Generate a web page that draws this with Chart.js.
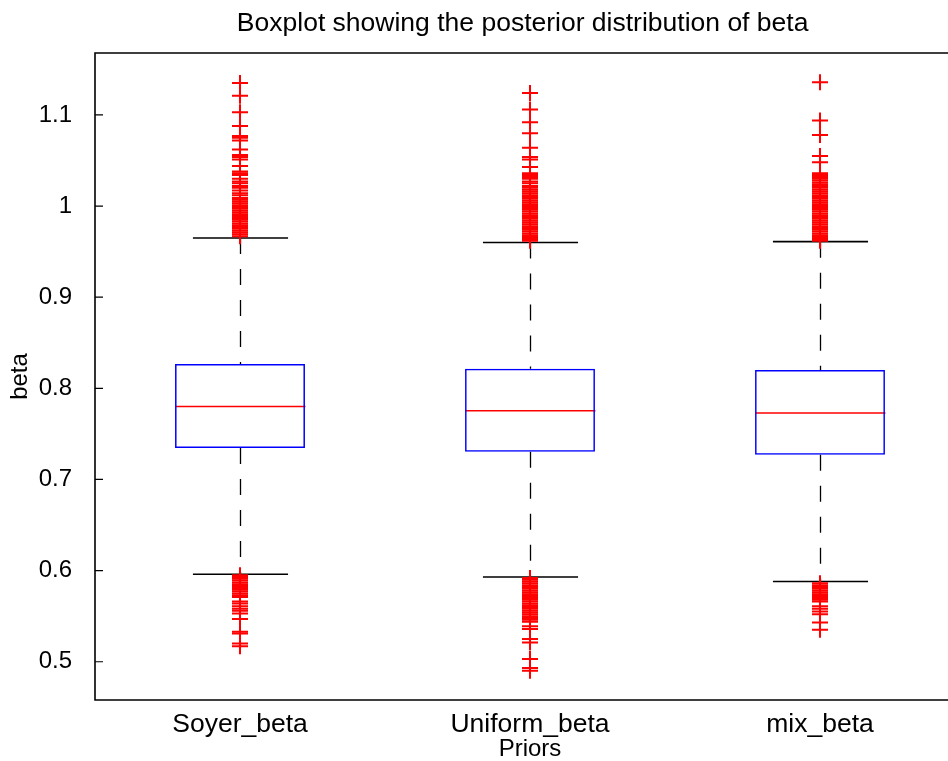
<!DOCTYPE html>
<html>
<head>
<meta charset="utf-8">
<script src="https://cdn.jsdelivr.net/npm/chart.js@4/dist/chart.umd.min.js"></script>
<style>
  html, body { margin: 0; padding: 0; background: #fff; overflow: hidden; }
</style>
</head>
<body>
<canvas id="myChart" width="990" height="761"></canvas>
<script>
// box statistics, one entry per prior
const categories = ['Soyer_beta', 'Uniform_beta', 'mix_beta']
const q1 = [0.7345, 0.7305, 0.727]
const medians = [0.780, 0.7755, 0.773]
const q3 = [0.8266, 0.8215, 0.820]
const whiskerLow = [0.596, 0.593, 0.588]
const whiskerHigh = [0.965, 0.960, 0.961]

// outliers
const outliersSoyer = [1.135, 1.121, 1.103, 1.088, 1.077, 1.075, 1.072, 1.062, 1.056, 1.054, 1.051, 1.044, 1.038, 1.036, 1.034, 1.030, 1.027,
    1.025, 1.022, 1.020, 1.017, 1.014, 1.012, 1.009, 1.007, 1.005, 1.003, 1.001, 0.999, 0.997, 0.995, 0.993, 0.991, 0.989, 0.987,
    0.985, 0.983, 0.981, 0.979, 0.977, 0.975, 0.973, 0.971, 0.969, 0.967,
    0.595, 0.593, 0.591, 0.589, 0.587, 0.585, 0.583, 0.581, 0.579, 0.577, 0.575, 0.573, 0.571, 0.566, 0.564, 0.561, 0.558,
    0.556, 0.553, 0.547, 0.533, 0.531, 0.520, 0.517]
const outliersUniform = [1.124, 1.106, 1.092, 1.080, 1.064, 1.054, 1.051, 1.043, 1.036, 1.034, 1.032, 1.030, 1.027, 1.025, 1.022,
    1.020, 1.018, 1.016, 1.014, 1.012, 1.010, 1.008, 1.006, 1.004, 1.002, 1.000, 0.998, 0.996, 0.994, 0.992, 0.990, 0.988, 0.986,
    0.984, 0.982, 0.980, 0.978, 0.976, 0.974, 0.972, 0.970, 0.968, 0.966, 0.964, 0.962,
    0.592, 0.590, 0.588, 0.586, 0.584, 0.582, 0.580, 0.578, 0.576, 0.574, 0.572, 0.570, 0.568, 0.566, 0.564, 0.562, 0.560,
    0.558, 0.556, 0.554, 0.552, 0.550, 0.548, 0.546, 0.544, 0.539, 0.536, 0.525, 0.521, 0.503, 0.493, 0.490]
const outliersMix = [1.136, 1.094, 1.078, 1.055, 1.048, 1.036, 1.034, 1.032, 1.030, 1.028, 1.026, 1.024, 1.022, 1.020, 1.018,
    1.016, 1.014, 1.012, 1.010, 1.008, 1.006, 1.004, 1.002, 1.000, 0.998, 0.996, 0.994, 0.992, 0.990, 0.988, 0.986, 0.984, 0.982,
    0.980, 0.978, 0.976, 0.974, 0.972, 0.970, 0.968, 0.966, 0.964, 0.962,
    0.586, 0.584, 0.582, 0.580, 0.578, 0.576, 0.574, 0.572, 0.570, 0.568, 0.566, 0.561, 0.558, 0.555, 0.552, 0.543, 0.535]
const outliers = [outliersSoyer, outliersUniform, outliersMix]

const yTicks = [0.5, 0.6, 0.7, 0.8, 0.9, 1, 1.1]

const fontFamily = '"Liberation Sans", Arial, Helvetica, sans-serif'
const boxFrac = 0.448
const capFrac = 0.328

// whiskers, caps, medians, frame and inward ticks
const boxParts = {
    id: 'boxParts',
    beforeDatasetsDraw(chart) {
        const { ctx, scales: { x, y } } = chart
        const cw = x.getPixelForValue(1) - x.getPixelForValue(0)
        ctx.save()
        for (let i = 0; i < categories.length; i++) {
            let cx = Math.round(x.getPixelForValue(i)) + 0.5
            // dashed whiskers
            ctx.strokeStyle = '#000'
            ctx.lineWidth = 1.3
            ctx.setLineDash([16, 15])
            ctx.beginPath()
            ctx.moveTo(cx, y.getPixelForValue(whiskerHigh[i]))
            ctx.lineTo(cx, y.getPixelForValue(q3[i]))
            ctx.moveTo(cx, y.getPixelForValue(q1[i]))
            ctx.lineTo(cx, y.getPixelForValue(whiskerLow[i]))
            ctx.stroke()
            ctx.setLineDash([])
            // caps
            ctx.lineWidth = 1.6
            ctx.beginPath()
            for (let v of [whiskerHigh[i], whiskerLow[i]]) {
                let py = y.getPixelForValue(v)
                ctx.moveTo(cx - cw * capFrac / 2, py)
                ctx.lineTo(cx + cw * capFrac / 2, py)
            }
            ctx.stroke()
            // median
            ctx.strokeStyle = '#ff0000'
            ctx.lineWidth = 1.5
            ctx.beginPath()
            let my = y.getPixelForValue(medians[i])
            ctx.moveTo(cx - cw * boxFrac / 2, my)
            ctx.lineTo(cx + cw * boxFrac / 2, my)
            ctx.stroke()
        }
        ctx.restore()
    },
    afterDraw(chart) {
        const { ctx, chartArea: a, scales: { y } } = chart
        ctx.save()
        ctx.strokeStyle = '#000'
        ctx.lineWidth = 1.6
        ctx.beginPath()
        ctx.moveTo(chart.width, a.top)
        ctx.lineTo(a.left, a.top)
        ctx.lineTo(a.left, a.bottom)
        ctx.lineTo(chart.width, a.bottom)
        ctx.stroke()
        ctx.lineWidth = 1.2
        ctx.beginPath()
        for (let t of yTicks) {
            let py = y.getPixelForValue(t)
            ctx.moveTo(a.left, py)
            ctx.lineTo(a.left + 8, py)
        }
        ctx.stroke()
        ctx.restore()
    }
}

let datasets = [{
    type: 'bar',
    data: categories.map((c, i) => [q1[i], q3[i]]),
    backgroundColor: 'rgba(0,0,0,0)',
    borderColor: '#0000ff',
    borderWidth: 1.5,
    borderSkipped: false,
    barPercentage: boxFrac,
    categoryPercentage: 1
}]
for (let i = 0; i < categories.length; i++) {
    datasets.push({
        type: 'scatter',
        data: outliers[i].map(v => ({ x: categories[i], y: v })),
        pointStyle: 'cross',
        pointRadius: 8,
        borderColor: '#ff0000',
        borderWidth: 2,
        showLine: false
    })
}

let ctx = document.getElementById('myChart').getContext('2d')
let myChart = new Chart(ctx, {
    type: 'bar',
    data: { labels: categories, datasets: datasets },
    plugins: [boxParts],
    options: {
        responsive: false,
        animation: false,
        events: [],
        layout: { padding: { left: 0, right: 25, top: 0, bottom: 0 } },
        plugins: {
            legend: { display: false },
            tooltip: { enabled: false },
            title: {
                display: true,
                fullSize: false,
                // two trailing spaces nudge the centred title a little left, as in the original
                text: 'Boxplot showing the posterior distribution of beta  ',
                color: '#000',
                font: { family: fontFamily, size: 26.5, weight: 'normal', lineHeight: 1 },
                padding: { top: 10, bottom: 16.5 }
            }
        },
        scales: {
            x: {
                type: 'category',
                offset: true,
                grid: { display: false },
                border: { display: false },
                ticks: { color: '#000', font: { family: fontFamily, size: 26.5 }, padding: 1 },
                title: {
                    display: true, text: 'Priors', color: '#000',
                    font: { family: fontFamily, size: 24, lineHeight: 1 }, padding: 0
                },
                afterFit(s) { s.height = 61 }
            },
            y: {
                type: 'linear',
                min: 0.458,
                max: 1.168,
                grid: { display: false },
                border: { display: false },
                afterBuildTicks(s) { s.ticks = yTicks.map(v => ({ value: v })) },
                ticks: {
                    color: '#000',
                    font: { family: fontFamily, size: 24 },
                    padding: 15,
                    callback: v => String(+v.toFixed(1))
                },
                title: {
                    display: true, text: 'beta', color: '#000',
                    font: { family: fontFamily, size: 24, lineHeight: 1 }, padding: { top: 8 }
                },
                afterFit(s) { s.width = 95 }
            }
        }
    }
})
</script>
</body>
</html>
